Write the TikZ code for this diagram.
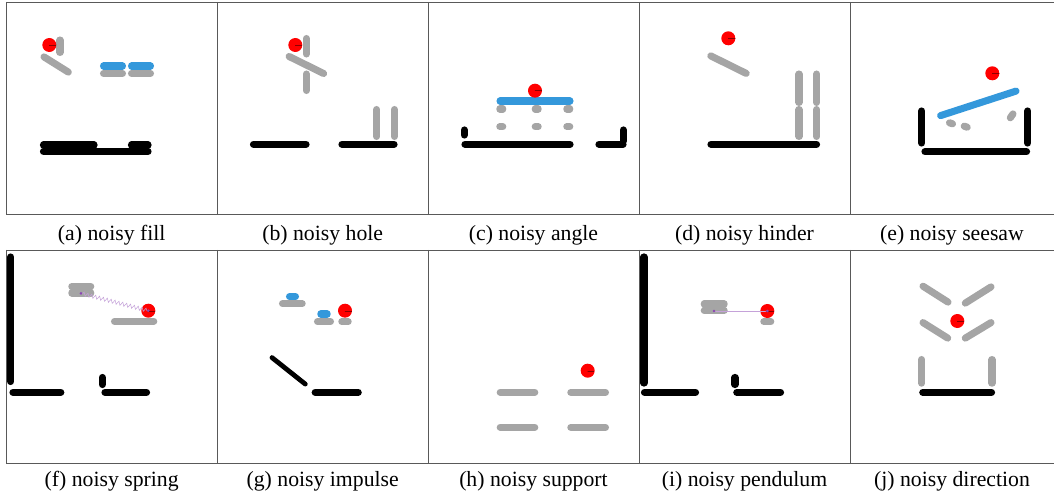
\documentclass[tikz,border=0pt]{standalone}
\usepackage{fontspec}
\setmainfont{Liberation Serif}
\usetikzlibrary{decorations.pathmorphing}
\definecolor{objgray}{RGB}{165,165,165}
\definecolor{toolblue}{RGB}{52,152,219}
\definecolor{pinviolet}{RGB}{140,70,180}

\begin{document}
\begin{tikzpicture}[x=0.75pt, y=-0.75pt, line cap=round]
  \tikzstyle{frame} = [draw=gray!70!black, line width=0.6pt, line cap=butt]
  \tikzstyle{wall} = [line width=5.4pt, black]
  \tikzstyle{thinwall} = [line width=3.6pt, black]
  \tikzstyle{block} = [line width=5.3pt, objgray]
  \tikzstyle{tool} = [line width=5.3pt, toolblue]
  \tikzstyle{ball} = [circle, fill=red, inner sep=0pt, minimum size=10.5pt,
    path picture={\draw[red!55!black, line width=0.3pt] (path picture bounding box.center) -- (path picture bounding box.east);}]
  \tikzstyle{pin} = [circle, fill=pinviolet, inner sep=0pt, minimum size=2.2pt]
  \tikzstyle{spring} = [draw=pinviolet!50, line width=0.4pt, decorate,
    decoration={zigzag, segment length=3pt, amplitude=1.4pt}]
  \tikzstyle{rod} = [draw=pinviolet!50, line width=0.5pt]
  \tikzstyle{caption} = [font=\fontsize{16.3}{19}\selectfont, inner sep=0pt]

  \useasboundingbox (0,0) rectangle (1054,499);

  % panel frames
  \foreach \top/\bot in {2/214, 250/463} {
    \draw[frame] (6,\top) -- (1054,\top) (6,\bot) -- (1054,\bot);
    \foreach \x in {6, 217.5, 428, 639, 850}
      \draw[frame] (\x,\top) -- (\x,\bot);
  }

  % captions
  \foreach \x/\lbl/\n in {111.7/(a) noisy fill/a, 322.7/(b) noisy hole/b,
      533.5/(c) noisy angle/c, 744.5/(d) noisy hinder/d, 952/(e) noisy seesaw/e}
    \node[caption] (cap\n) at (\x,235) {\lbl};
  \foreach \x/\lbl/\n in {111.7/(f) noisy spring/f, 322.7/(g) noisy impulse/g,
      533.5/(h) noisy support/h, 744.5/(i) noisy pendulum/i, 952/(j) noisy direction/j}
    \node[caption] (cap\n) at (\x,481) {\lbl};

  % (a) fill
  \draw[block] (60,40) -- (60,52.5);
  \draw[block] (44,56.9) -- (68.3,72.1);
  \draw[block] (103.5,73.3) -- (122.5,73.3) (131.5,73.3) -- (150.5,73.3);
  \draw[tool] (103.5,66) -- (122.5,66) (131.5,66) -- (150.5,66);
  \draw[wall] (43.5,145) -- (94,145) (131.5,145) -- (148,145);
  \draw[wall] (43.5,151.5) -- (148,151.5);
  \node[ball] (ballA) at (49.3,45) {};

  % (b) hole
  \draw[block] (306.3,38.5) -- (306.3,54);
  \draw[block] (289.1,56.5) -- (323.6,73.5);
  \draw[block] (306.3,74) -- (306.3,90.5);
  \draw[wall] (253.5,144.3) -- (306,144.3) (342,144.3) -- (394,144.3);
  \draw[block] (376.7,109.5) -- (376.7,136.5) (394.3,109.5) -- (394.3,136.5);
  \node[ball] (ballB) at (295.3,45) {};

  % (c) angle
  \foreach \x in {501.3, 536.7, 568.3}
    \draw[block] (\x-1.5,109) -- (\x+1.5,109) (\x-1.5,126.7) -- (\x+1.5,126.7);
  \draw[tool] (500,101) -- (570,101);
  \draw[wall] (465,144.3) -- (570,144.3) (464.3,130) -- (464.3,135);
  \draw[wall] (599,144.3) -- (623,144.3) (623.3,130) -- (623.3,141);
  \node[ball] (ballC) at (535,90.7) {};

  % (d) hinder
  \draw[block] (710.8,55.9) -- (746.2,73.4);
  \draw[wall] (711,144.3) -- (816.5,144.3);
  \foreach \x in {799, 816.7}
    \draw[block] (\x,74) -- (\x,102.5) (\x,109.5) -- (\x,136.5);
  \node[ball] (ballD) at (728.3,38.3) {};

  % (e) seesaw
  \draw[wall] (921.7,111) -- (921.7,143) (1027.7,111) -- (1027.7,143);
  \draw[wall] (925,151.7) -- (1026.5,151.7);
  \draw[block] (949.5,122.8) -- (952.5,123.8) (964.2,126.2) -- (967.2,127.2);
  \draw[block] (1010.3,117.8) -- (1013,113.9);
  \draw[tool] (940.6,115.6) -- (1016,91.1);
  \node[ball] (ballE) at (992.3,73.3) {};

  % (f) spring
  \draw[wall] (10.7,257) -- (10.7,381.5) (13,392.3) -- (60.8,392.3);
  \draw[wall] (105,392.3) -- (146.5,392.3) (102.3,377.5) -- (102.3,384.5);
  \draw[block] (71.8,286.5) -- (90.8,286.5) (71.8,293) -- (90.8,293);
  \draw[block] (114.5,321.3) -- (153.8,321.3);
  \node[ball] (ballF) at (148.3,310.7) {};
  \node[pin] (pinF) at (81,293.3) {};
  \node[pin] (hubF) at (ballF.center) {};
  \draw[spring] (pinF) -- (hubF);

  % (g) impulse
  \draw[block] (282.5,303.7) -- (302.2,303.7);
  \draw[block] (317.5,321.7) -- (330.5,321.7) (341.8,321.7) -- (348.2,321.7);
  \draw[tool] (289.5,296.7) -- (295.5,296.7) (320.8,314) -- (327.2,314);
  \draw[thinwall] (272,357.6) -- (305.3,384.1);
  \draw[wall] (315.2,392.3) -- (358.2,392.3);
  \node[ball] (ballG) at (345,310.7) {};

  % (h) support
  \foreach \y in {392.3, 427.3}
    \draw[block] (500.2,\y) -- (534.8,\y) (570.8,\y) -- (605.5,\y);
  \node[ball] (ballH) at (587.7,370.7) {};

  % (i) pendulum
  \draw[wall] (644,257) -- (644,383) (644.5,392.3) -- (695.5,392.3);
  \draw[wall] (736.8,392.3) -- (780.5,392.3) (735,377.5) -- (735,384.5);
  \draw[block] (704.2,304) -- (724.2,304) (704.2,310.5) -- (724.2,310.5);
  \draw[block] (763.8,321.7) -- (770.8,321.7);
  \node[ball] (ballI) at (767.3,311) {};
  \node[pin] (pinI) at (714,311) {};
  \node[pin] (hubI) at (ballI.center) {};
  \draw[rod] (pinI) -- (hubI);

  % (j) direction
  \draw[block] (923,286.2) -- (948,302.1) (965.3,303.1) -- (991,286.9);
  \draw[block] (923,322.6) -- (947.7,338.1) (965.3,338.1) -- (991,322.6);
  \draw[block] (921.7,359.5) -- (921.7,383.2) (992,359.5) -- (992,383.2);
  \draw[wall] (922.8,392.3) -- (991.5,392.3);
  \node[ball] (ballJ) at (957.3,321) {};
\end{tikzpicture}
\end{document}
